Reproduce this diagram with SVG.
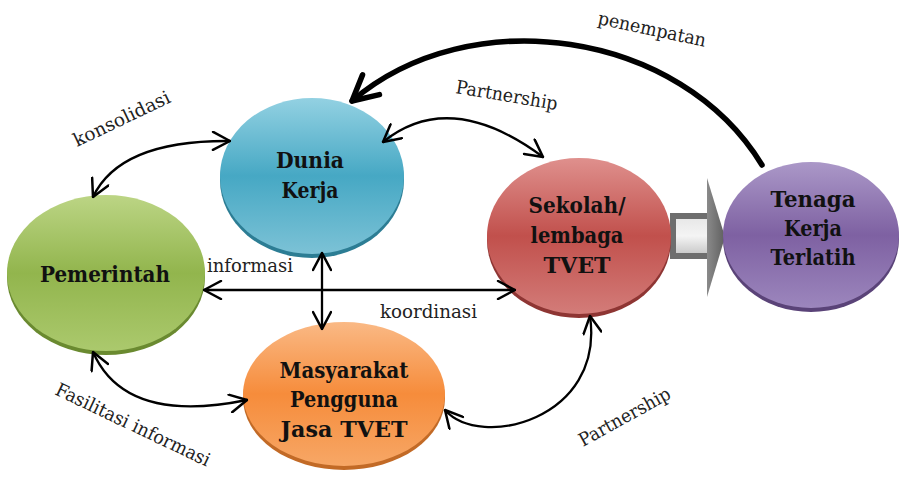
<svg xmlns="http://www.w3.org/2000/svg" width="903" height="482" viewBox="0 0 903 482">
  <style>
    .node-text { font-family: "DejaVu Serif", serif; font-weight: bold; font-size: 23px; fill: #111; text-anchor: middle; }
    .label { font-family: "DejaVu Serif", serif; font-size: 18.5px; fill: #222; }
    .link { fill: none; stroke: #000; stroke-width: 2.3; stroke-linecap: round; }
    .link-heavy { fill: none; stroke: #000; stroke-width: 5.5; stroke-linecap: round; }
  </style>
  <defs>
    <linearGradient id="gBlue" x1="0" y1="0" x2="0" y2="1">
      <stop offset="0" stop-color="#93d1e2"/>
      <stop offset="0.5" stop-color="#46a8c4"/>
      <stop offset="1" stop-color="#7cc2d6"/>
    </linearGradient>
    <linearGradient id="gGreen" x1="0" y1="0" x2="0" y2="1">
      <stop offset="0" stop-color="#bcd585"/>
      <stop offset="0.5" stop-color="#92b54d"/>
      <stop offset="1" stop-color="#abc96d"/>
    </linearGradient>
    <linearGradient id="gRed" x1="0" y1="0" x2="0" y2="1">
      <stop offset="0" stop-color="#df908d"/>
      <stop offset="0.5" stop-color="#c1504c"/>
      <stop offset="1" stop-color="#d37c79"/>
    </linearGradient>
    <linearGradient id="gPurple" x1="0" y1="0" x2="0" y2="1">
      <stop offset="0" stop-color="#ab98c8"/>
      <stop offset="0.5" stop-color="#7e61a2"/>
      <stop offset="1" stop-color="#9c86bd"/>
    </linearGradient>
    <linearGradient id="gOrange" x1="0" y1="0" x2="0" y2="1">
      <stop offset="0" stop-color="#fab985"/>
      <stop offset="0.5" stop-color="#f68c3b"/>
      <stop offset="1" stop-color="#f7a766"/>
    </linearGradient>
    <linearGradient id="gShaft" x1="0" y1="0" x2="0" y2="1">
      <stop offset="0" stop-color="#e6e6e6"/>
      <stop offset="0.5" stop-color="#f4f4f4"/>
      <stop offset="1" stop-color="#c4c4c4"/>
    </linearGradient>
    <linearGradient id="gHead" x1="0" y1="0" x2="1" y2="0">
      <stop offset="0" stop-color="#8a8a8a"/>
      <stop offset="1" stop-color="#5f5f5f"/>
    </linearGradient>
    <marker id="open" viewBox="0 0 20 20" refX="19" refY="10" markerWidth="20" markerHeight="20" markerUnits="userSpaceOnUse" orient="auto-start-reverse">
      <path d="M2,1 L19,10 L2,19" fill="none" stroke="#000" stroke-width="2.5" stroke-linecap="round" stroke-linejoin="round"/>
    </marker>
    <marker id="openHeavy" viewBox="0 0 32 32" refX="29" refY="16" markerWidth="32" markerHeight="32" markerUnits="userSpaceOnUse" orient="auto">
      <path d="M4,3 L29,16 L4,29" fill="none" stroke="#000" stroke-width="5.5" stroke-linecap="round" stroke-linejoin="round"/>
    </marker>
  </defs>

  <rect width="903" height="482" fill="#fff"/>

  <!-- block arrow from school to trained workforce -->
  <g id="flow-arrow">
    <rect x="673" y="216" width="38" height="40" fill="url(#gShaft)" stroke="#6e6e6e" stroke-width="6"/>
    <polygon points="707,178 725,237 707,297" fill="url(#gHead)"/>
  </g>

  <g id="dunia-kerja">
    <ellipse cx="312" cy="180" rx="92" ry="78" fill="#2c7d94"/>
    <ellipse cx="312" cy="176" rx="92" ry="78" fill="url(#gBlue)"/>
    <text class="node-text" x="310" y="168" textLength="68" lengthAdjust="spacingAndGlyphs">Dunia</text>
    <text class="node-text" x="310" y="198" textLength="57" lengthAdjust="spacingAndGlyphs">Kerja</text>
  </g>

  <g id="pemerintah">
    <ellipse cx="106" cy="277" rx="99" ry="78" fill="#6a8a30"/>
    <ellipse cx="106" cy="273" rx="99" ry="78" fill="url(#gGreen)"/>
    <text class="node-text" x="105" y="282" textLength="130" lengthAdjust="spacingAndGlyphs">Pemerintah</text>
  </g>

  <g id="sekolah">
    <ellipse cx="579" cy="240" rx="92" ry="78" fill="#8e3533"/>
    <ellipse cx="579" cy="236" rx="92" ry="78" fill="url(#gRed)"/>
    <text class="node-text" x="577" y="213" textLength="97" lengthAdjust="spacingAndGlyphs">Sekolah/</text>
    <text class="node-text" x="577" y="243" textLength="93" lengthAdjust="spacingAndGlyphs">lembaga</text>
    <text class="node-text" x="577" y="273" textLength="67" lengthAdjust="spacingAndGlyphs">TVET</text>
  </g>

  <g id="tenaga-kerja">
    <ellipse cx="811" cy="239" rx="88" ry="73" fill="#5a4378"/>
    <ellipse cx="811" cy="235" rx="88" ry="73" fill="url(#gPurple)"/>
    <text class="node-text" x="813" y="207" textLength="85" lengthAdjust="spacingAndGlyphs">Tenaga</text>
    <text class="node-text" x="813" y="236" textLength="58" lengthAdjust="spacingAndGlyphs">Kerja</text>
    <text class="node-text" x="813" y="265" textLength="85" lengthAdjust="spacingAndGlyphs">Terlatih</text>
  </g>

  <g id="masyarakat">
    <ellipse cx="344" cy="398" rx="101" ry="72" fill="#c26a26"/>
    <ellipse cx="344" cy="394" rx="101" ry="72" fill="url(#gOrange)"/>
    <text class="node-text" x="344" y="378" textLength="129" lengthAdjust="spacingAndGlyphs">Masyarakat</text>
    <text class="node-text" x="344" y="407" textLength="108" lengthAdjust="spacingAndGlyphs">Pengguna</text>
    <text class="node-text" x="344" y="437" textLength="127" lengthAdjust="spacingAndGlyphs">Jasa TVET</text>
  </g>

  <g id="connectors">
    <path class="link-heavy" d="M762,165 C680,30 470,0 352,101" marker-end="url(#openHeavy)"/>
    <path class="link" d="M383,142 Q450,88 543,157" marker-start="url(#open)" marker-end="url(#open)"/>
    <path class="link" d="M93,197 Q120,140 230,141" marker-start="url(#open)" marker-end="url(#open)"/>
    <path class="link" d="M322,253 L322,329" marker-start="url(#open)" marker-end="url(#open)"/>
    <path class="link" d="M204,290 L515,290" marker-start="url(#open)" marker-end="url(#open)"/>
    <path class="link" d="M93,352 Q125,425 247,400" marker-start="url(#open)" marker-end="url(#open)"/>
    <path class="link" d="M445,410 C480,450 605,420 590,316" marker-start="url(#open)" marker-end="url(#open)"/>
  </g>

  <g id="labels">
    <text class="label" x="597" y="24" transform="rotate(12 597 24)" textLength="110" lengthAdjust="spacingAndGlyphs">penempatan</text>
    <text class="label" x="455" y="93" transform="rotate(9.5 455 93)" textLength="103" lengthAdjust="spacingAndGlyphs">Partnership</text>
    <text class="label" x="77" y="147" transform="rotate(-25.5 77 147)" textLength="105" lengthAdjust="spacingAndGlyphs">konsolidasi</text>
    <text class="label" x="207" y="272" textLength="86" lengthAdjust="spacingAndGlyphs">informasi</text>
    <text class="label" x="380" y="318" textLength="97" lengthAdjust="spacingAndGlyphs">koordinasi</text>
    <text class="label" x="54" y="394" transform="rotate(25.5 54 394)" textLength="169" lengthAdjust="spacingAndGlyphs">Fasilitasi informasi</text>
    <text class="label" x="583" y="447" transform="rotate(-29 583 447)" textLength="102" lengthAdjust="spacingAndGlyphs">Partnership</text>
  </g>
</svg>
